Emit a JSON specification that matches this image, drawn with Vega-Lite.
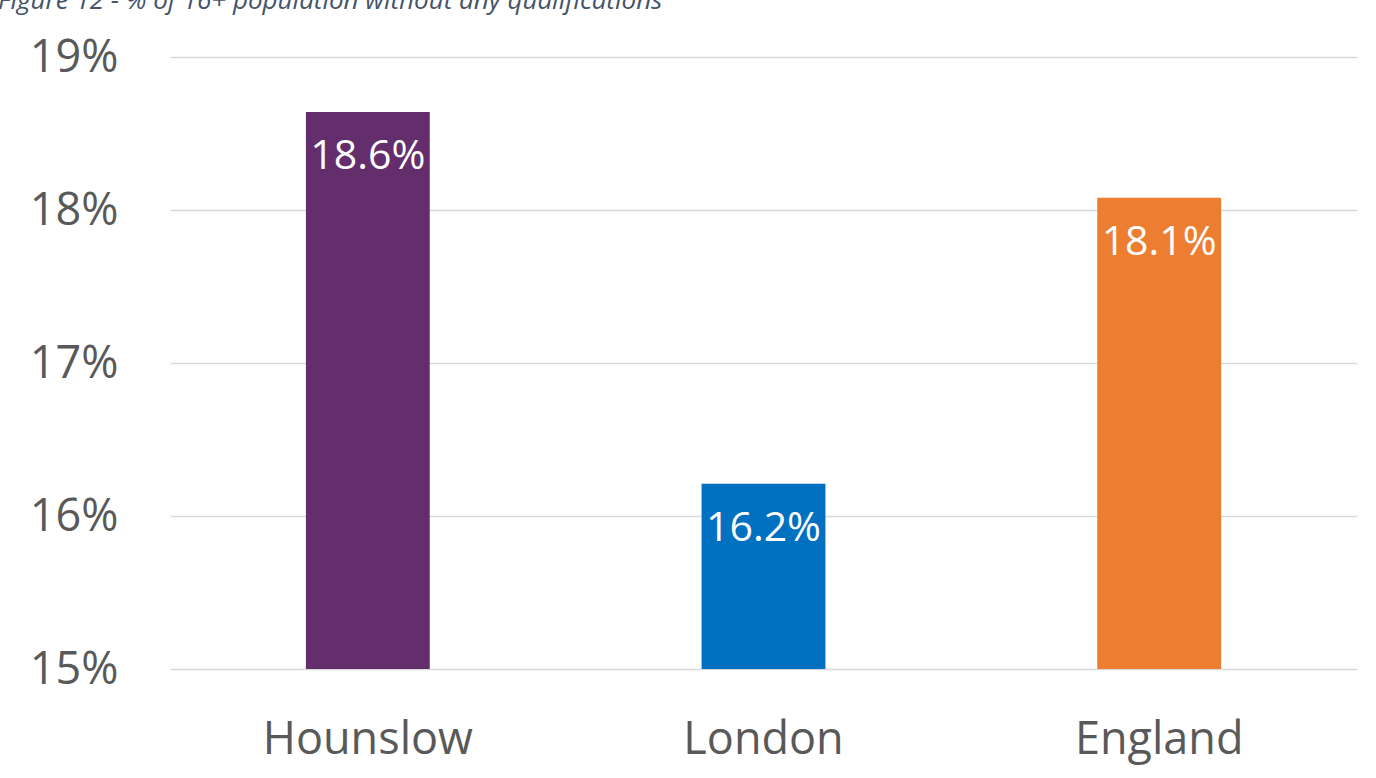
{
  "$schema": "https://vega.github.io/schema/vega-lite/v6.json",
  "autosize": {"type": "none"},
  "padding": {"left": 170, "top": 57, "right": 19, "bottom": 109},
  "width": 1187,
  "height": 612,
  "background": "white",
  "title": {
    "text": "Figure 12 - % of 16+ population without any qualifications",
    "anchor": "start",
    "frame": "group",
    "font": "Open Sans",
    "fontStyle": "italic",
    "fontWeight": "normal",
    "fontSize": 26,
    "color": "#44546a",
    "baseline": "alphabetic",
    "dx": -172,
    "dy": 4
  },
  "config": {
    "view": {"stroke": null},
    "font": "Open Sans"
  },
  "data": {
    "values": [
      {"area": "Hounslow", "value": 18.64, "label": "18.6%"},
      {"area": "London", "value": 16.21, "label": "16.2%"},
      {"area": "England", "value": 18.08, "label": "18.1%"}
    ]
  },
  "encoding": {
    "x": {
      "field": "area",
      "type": "nominal",
      "sort": null,
      "scale": {"paddingInner": 0.687, "paddingOuter": 0.3435},
      "axis": {
        "title": null,
        "labelAngle": 0,
        "labelFontSize": 45,
        "labelColor": "#595959",
        "labelBaseline": "alphabetic",
        "labelPadding": 84,
        "labelLimit": 0,
        "ticks": false,
        "domain": false,
        "grid": false,
        "labelFont": "Open Sans"
      }
    },
    "y": {
      "field": "value",
      "type": "quantitative",
      "scale": {"domain": [15, 19], "zero": false, "nice": false},
      "axis": {
        "title": null,
        "values": [15, 16, 17, 18, 19],
        "labelExpr": "datum.value + '%'",
        "labelFontSize": 45,
        "labelColor": "#595959",
        "labelPadding": 52,
        "labelFont": "Open Sans",
        "ticks": false,
        "domain": false,
        "gridColor": "#d9d9d9",
        "gridWidth": 1.5
      }
    }
  },
  "layer": [
    {
      "mark": {"type": "bar"},
      "encoding": {
        "y2": {"datum": 15},
        "color": {
          "field": "area",
          "type": "nominal",
          "scale": {"domain": ["Hounslow", "London", "England"], "range": ["#642d6b", "#0070c0", "#ed7d31"]},
          "legend": null
        }
      }
    },
    {
      "mark": {"type": "text", "color": "white", "fontSize": 41, "baseline": "alphabetic", "dy": 57, "font": "Open Sans"},
      "encoding": {"text": {"field": "label"}}
    }
  ]
}
